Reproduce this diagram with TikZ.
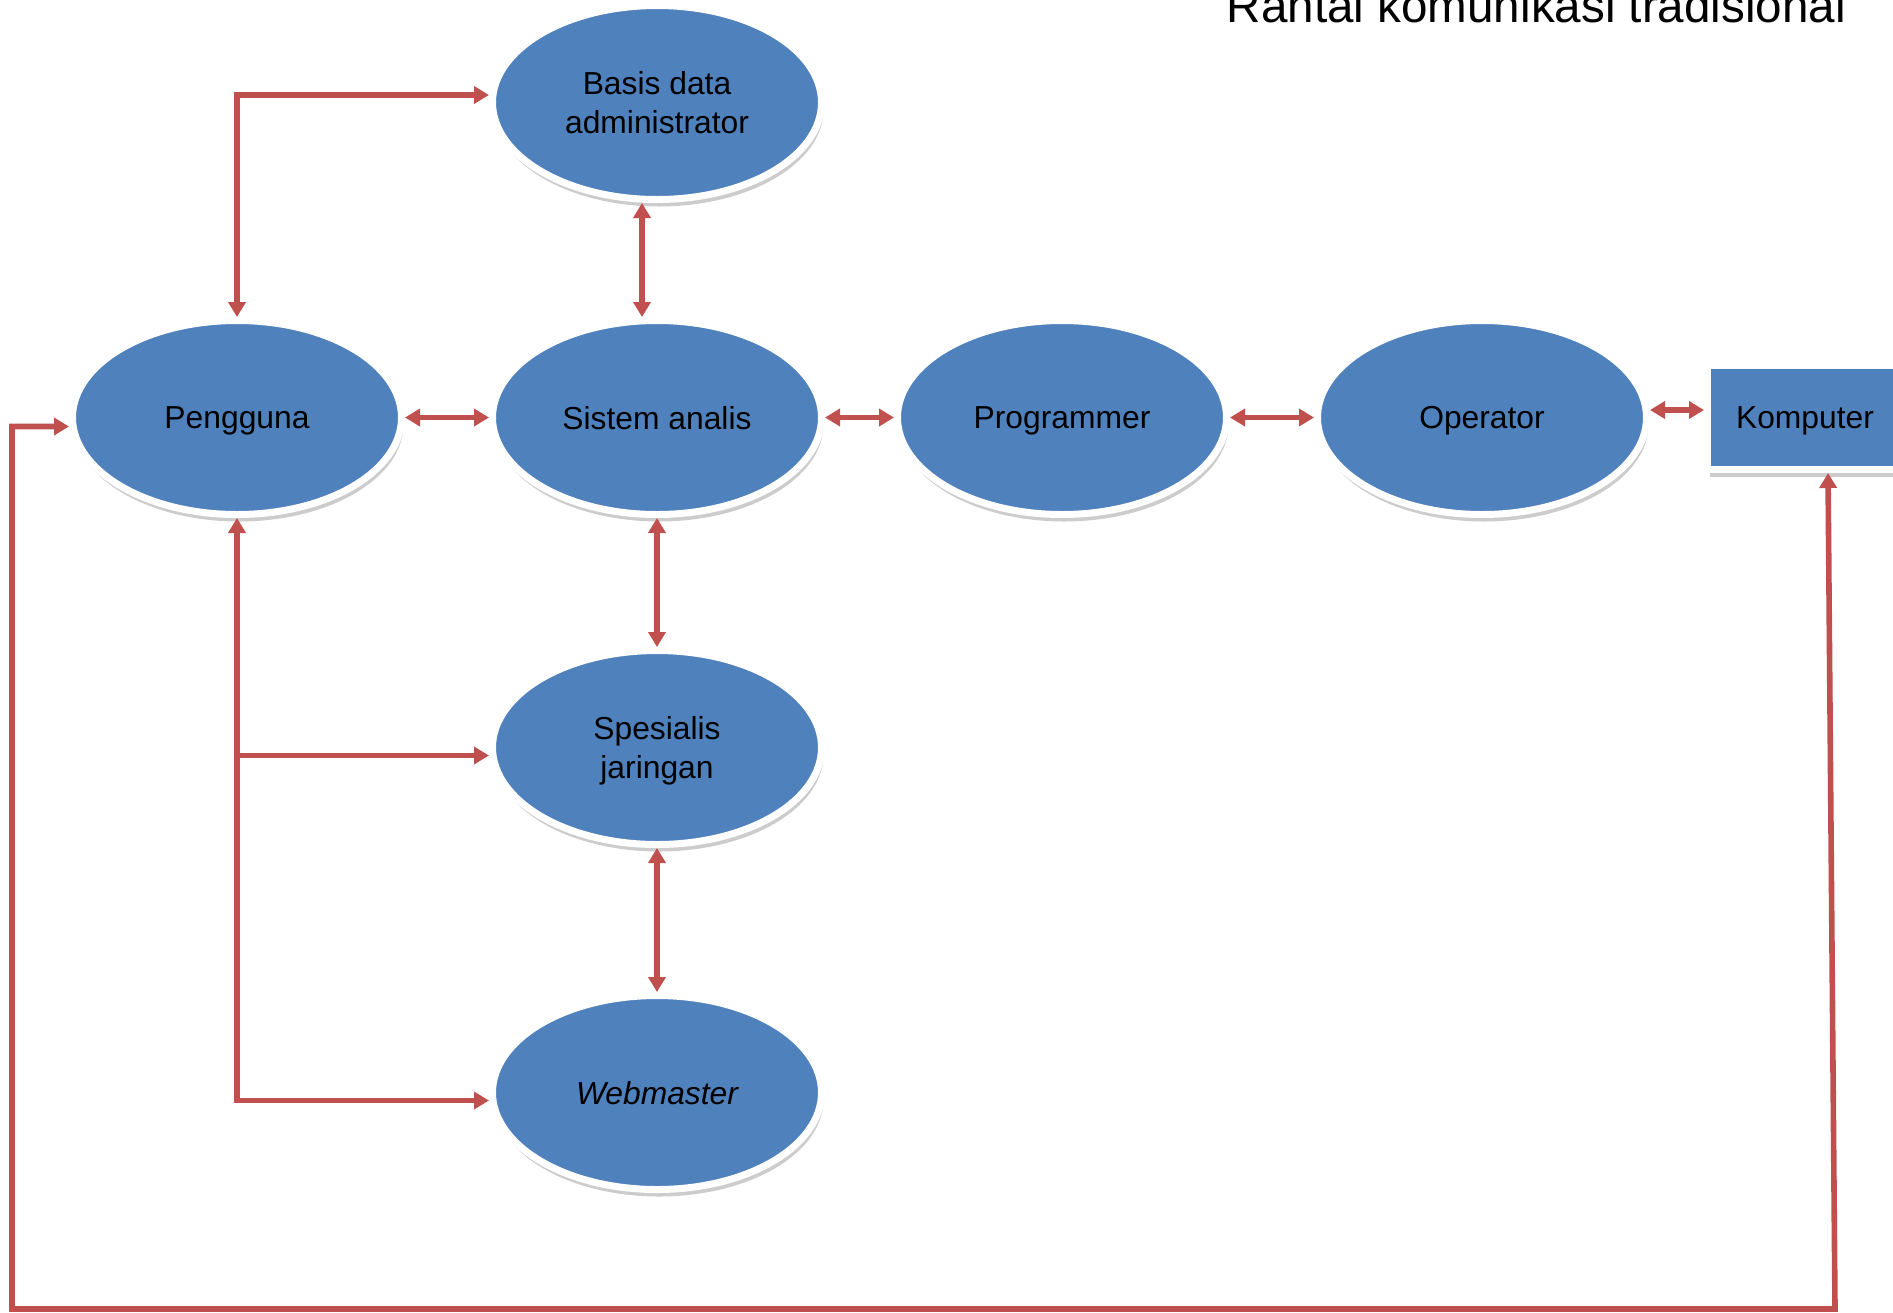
\documentclass[tikz,border=0pt]{standalone}
\usepackage{fontspec}
\setmainfont{Liberation Sans}
\usetikzlibrary{arrows.meta,shapes.geometric,shadows}
\definecolor{roleblue}{HTML}{4F81BD}
\definecolor{linkred}{HTML}{C0504D}
\begin{document}
\begin{tikzpicture}[x=0.5pt,y=-0.5pt,
  role/.style={ellipse,fill=roleblue,draw=white,line width=3.5pt,
    minimum width=164.5pt,minimum height=97pt,inner sep=0pt,align=center,text depth=0pt,
    font=\fontsize{15.9pt}{19.5pt}\selectfont,
    drop shadow={shadow xshift=1pt,shadow yshift=-3.5pt,opacity=.2,fill=black}},
  box/.style={rectangle,fill=roleblue,draw=white,line width=3.5pt,
    minimum width=97.5pt,minimum height=52pt,inner sep=0pt,text depth=0pt,
    font=\fontsize{15.9pt}{19.5pt}\selectfont,
    drop shadow={shadow xshift=1pt,shadow yshift=-3.5pt,opacity=.2,fill=black}},
  link/.style={draw=linkred,line width=2.8pt,>={Triangle[length=7.5pt,width=8.5pt]}}]
  \useasboundingbox (0,0) rectangle (1893,1312);
  \clip (0,0) rectangle (1893,1312);
  \node[anchor=base east,font=\fontsize{23.8pt}{28pt}\selectfont] (judul) at (1853,22) {Rantai komunikasi tradisional};
  \node[role] (basis) at (657,102.5) {Basis data\\administrator};
  \node[role] (pengguna) at (237,417.5) {Pengguna};
  \node[role] (sistem) at (657,417.5) {Sistem analis};
  \node[role] (programmer) at (1062,417.5) {Programmer};
  \node[role] (operator) at (1482,417.5) {Operator};
  \node[role] (spesialis) at (657,747.5) {Spesialis\\jaringan};
  \node[role] (webmaster) at (657,1092.5) {\itshape Webmaster};
  \node[box] (komputer) at (1805,417.5) {Komputer};
  \coordinate (loopsw) at (12,1309);
  \coordinate (loopse) at (1835,1309);
  \draw[link,<->] (pengguna.north) |- ([yshift=3.75pt]basis.west);
  \draw[link,<->] ([xshift=-7.5pt]basis.south) -- ([xshift=-7.5pt]sistem.north);
  \draw[link,<->] (pengguna.east) -- (sistem.west);
  \draw[link,<->] (sistem.east) -- (programmer.west);
  \draw[link,<->] (programmer.east) -- (operator.west);
  \draw[link,<->] ([yshift=3.75pt]operator.east) -- ([yshift=3.75pt]komputer.west);
  \draw[link,<->] (sistem.south) -- (spesialis.north);
  \draw[link,<->] (spesialis.south) -- (webmaster.north);
  \draw[link,<->] (pengguna.south) |- ([yshift=-4pt]webmaster.west);
  \draw[link,->] ([yshift=-4pt]spesialis.west -| pengguna.south) -- ([yshift=-4pt]spesialis.west);
  \draw[link,<->] ([xshift=11.5pt]komputer.south) -- (loopse) -- (loopsw) |- ([yshift=-4.5pt]pengguna.west);
\end{tikzpicture}
\end{document}
